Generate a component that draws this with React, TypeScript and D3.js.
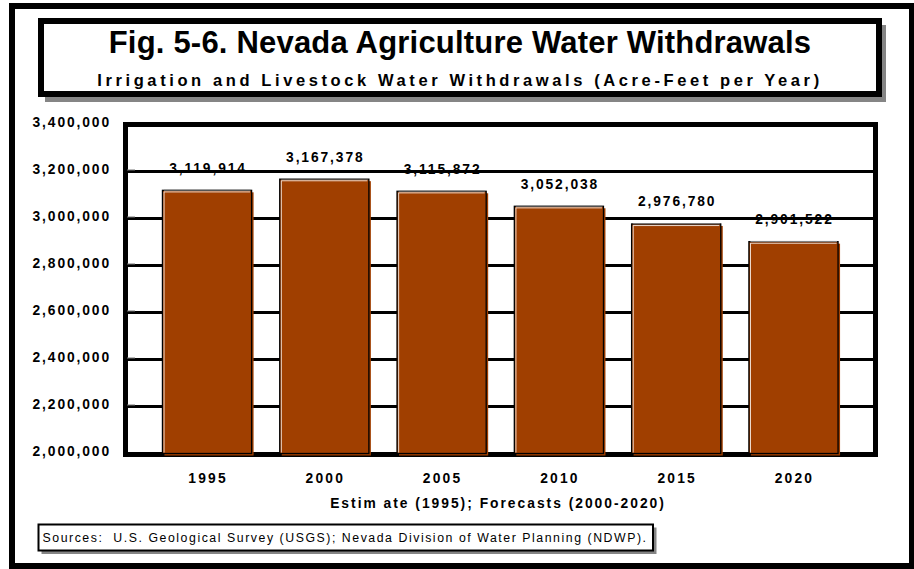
import React from "react";
import * as d3 from "d3";

const years = ["1995", "2000", "2005", "2010", "2015", "2020"];
const withdrawals = [3119914, 3167378, 3115872, 3052038, 2976780, 2901522];
const yTicks = [2000000, 2200000, 2400000, 2600000, 2800000, 3000000, 3200000, 3400000];
const titleText = "Fig. 5-6. Nevada Agriculture Water Withdrawals";
const subtitleText = "Irrigation and Livestock Water Withdrawals (Acre-Feet per Year)";
const xTitleText = "Estim ate (1995); Forecasts (2000-2020)";
const sourceText = "Sources:  U.S. Geological Survey (USGS); Nevada Division of Water Planning (NDWP).";

const W = 914;
const H = 569;
const FONT = "'Liberation Sans', Arial, Helvetica, sans-serif";
const BAR = "#A03F00";
const SHADOW = "#858585";

export default function App() {
  const plot = { left: 125.5, right: 875.5, top: 124.5, bottom: 454.5 };
  const x = d3
    .scaleBand<string>()
    .domain(years)
    .range([plot.left, plot.right - 0.5])
    .paddingInner(0.24)
    .paddingOuter(0.315);
  const y = d3.scaleLinear().domain([2000000, 3400000]).range([453.5, 124.5]);
  const fmt = d3.format(",");
  const bw = x.bandwidth();

  return (
    <svg
      width={W}
      height={H}
      style={{ position: "absolute", left: 0, top: 0, background: "#fff" }}
      fontFamily={FONT}
    >
      <rect x={0} y={0} width={W} height={H} fill="#fff" />
      {/* outer frame */}
      <rect x={12} y={6} width={900} height={560} fill="none" stroke="#000" strokeWidth={6} />

      {/* title box */}
      <rect x={45} y={25} width={841} height={77} fill={SHADOW} />
      <rect x={41} y={21} width={838} height={73} fill="#fff" stroke="#000" strokeWidth={6} />
      <text
        x={460}
        y={53.3}
        textAnchor="middle"
        fontSize={31}
        fontWeight="bold"
        letterSpacing={0.2}
      >
        {titleText}
      </text>
      <text
        x={460}
        y={86}
        textAnchor="middle"
        fontSize={16.5}
        fontWeight="bold"
        letterSpacing={3.6}
      >
        {subtitleText}
      </text>

      {/* plot frame */}
      <rect
        x={plot.left}
        y={plot.top}
        width={plot.right - plot.left}
        height={plot.bottom - plot.top}
        fill="#fff"
        stroke="#000"
        strokeWidth={5}
      />

      {/* value labels (under gridlines) */}
      {years.map((yr, i) => (
        <text
          key={"v" + yr}
          x={(x(yr) as number) + bw / 2 + 1}
          y={y(withdrawals[i]) - 17.5}
          textAnchor="middle"
          fontSize={13.8}
          fontWeight="bold"
          letterSpacing={1.9}
        >
          {fmt(withdrawals[i])}
        </text>
      ))}

      {/* gridlines */}
      {yTicks.slice(1, -1).map((t) => (
        <g key={"g" + t}>
          <line x1={plot.left} x2={plot.right} y1={y(t)} y2={y(t)} stroke="#000" strokeWidth={3} />
          <line x1={127} x2={135} y1={y(t) - 1.5} y2={y(t) - 1.5} stroke="#777" strokeWidth={1} />
        </g>
      ))}

      {/* bars */}
      {years.map((yr, i) => {
        const bx = x(yr) as number;
        const by = y(withdrawals[i]);
        const bh = y(2000000) - by;
        return (
          <g key={"b" + yr}>
            <rect x={bx + 2} y={by + 2} width={bw} height={bh} fill={BAR} />
            <rect x={bx} y={by} width={bw} height={bh} fill={BAR} stroke="#000" strokeWidth={1.3} />
            <line x1={bx + 1.5} x2={bx + bw - 1} y1={by - 0.2} y2={by - 0.2} stroke="#888" strokeWidth={1} />
            <line x1={bx + 1.6} x2={bx + 1.6} y1={by + 1.5} y2={by + bh - 1} stroke="#fff" strokeWidth={0.8} />
            <line x1={bx + 1.5} x2={bx + bw - 1.5} y1={by + 1.6} y2={by + 1.6} stroke="#fff" strokeWidth={0.8} />
          </g>
        );
      })}

      {/* y axis labels */}
      {yTicks.map((t) => (
        <text
          key={"y" + t}
          x={111}
          y={y(t) + 2.5}
          textAnchor="end"
          fontSize={13.8}
          fontWeight="bold"
          letterSpacing={1.9}
        >
          {fmt(t)}
        </text>
      ))}

      {/* x labels */}
      {years.map((yr) => (
        <text
          key={"x" + yr}
          x={(x(yr) as number) + bw / 2 + 1}
          y={483}
          textAnchor="middle"
          fontSize={13.8}
          fontWeight="bold"
          letterSpacing={2.2}
        >
          {yr}
        </text>
      ))}
      <text
        x={498}
        y={508}
        textAnchor="middle"
        fontSize={13.8}
        fontWeight="bold"
        letterSpacing={2}
      >
        {xTitleText}
      </text>

      {/* sources box */}
      <rect x={41.5} y={527.5} width={615} height={26.5} fill={SHADOW} />
      <rect x={38.5} y={524.5} width={614.5} height={26} fill="#fff" stroke="#000" strokeWidth={2} />
      <text x={42.5} y={542} fontSize={12.3} letterSpacing={1.55} style={{ whiteSpace: "pre" }}>
        {sourceText}
      </text>
    </svg>
  );
}
